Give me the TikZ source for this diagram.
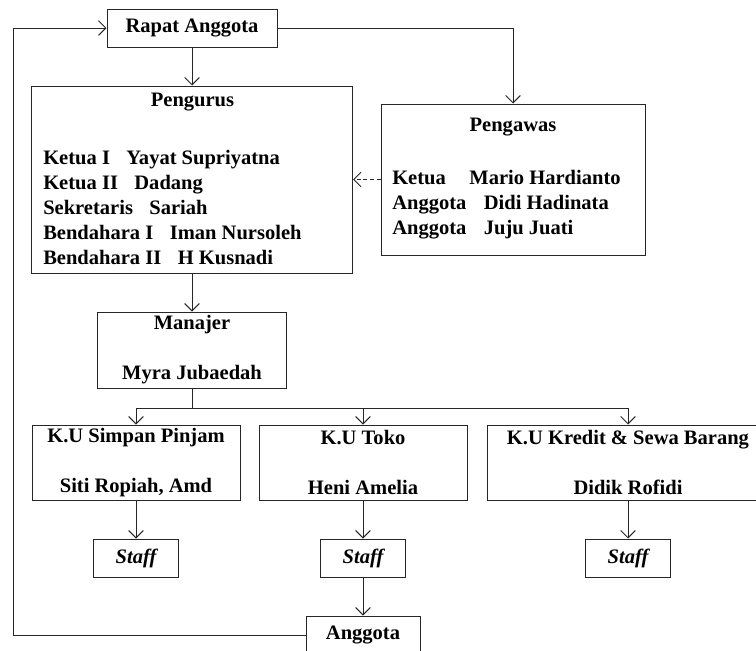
\documentclass[tikz,border=0pt]{standalone}
\usepackage{fontspec}
\setmainfont{Liberation Serif}
\usetikzlibrary{arrows.meta,positioning}

\begin{document}
\begin{tikzpicture}[x=0.75pt, y=-0.75pt, node distance=28.5pt,
                    font=\fontsize{15.4}{18.75}\selectfont\bfseries,
                    box/.style={rectangle, draw=black!85, line width=0.75pt, inner sep=0pt, align=center},
                    kubox/.style={box, minimum width=156pt, minimum height=56.25pt},
                    staffbox/.style={box, minimum width=63.75pt, minimum height=28.5pt, font=\fontsize{15.4}{18.75}\selectfont\bfseries\itshape},
                    txt/.style={inner sep=0pt, align=left},
                    link/.style={draw=black!85, line width=0.75pt},
                    arr/.style={link, -{Straight Barb[length=5.5pt, width=11pt]}}]
  \clip (0,0) rectangle (756,650);
  \node[box, minimum width=127.5pt, minimum height=28.5pt] (rapat) at (192,28) {Rapat Anggota};
  \node[box, below=of rapat, minimum width=240.75pt, minimum height=140.25pt] (pengurus) {};
  \node[txt] (pengurus-title) at (192.5,102) {Pengurus};
  \node[txt, anchor=west] (pengurus-list) at (43,207) {Ketua I\hspace{0.8em}Yayat Supriyatna\\
        Ketua II\hspace{0.8em}Dadang\\
        Sekretaris\hspace{0.8em}Sariah\\
        Bendahara I\hspace{0.8em}Iman Nursoleh\\
        Bendahara II\hspace{0.8em}H Kusnadi};
  \node[box, minimum width=198pt, minimum height=113.25pt] (pengawas) at (513,179.5) {};
  \node[txt] (pengawas-title) at (513,127) {Pengawas};
  \node[txt, anchor=west] (pengawas-list) at (392,204.5) {Ketua\hspace{1.15em}Mario Hardianto\\
        Anggota\hspace{0.85em}Didi Hadinata\\
        Anggota\hspace{0.85em}Juju Juati};
  \node[box, below=of pengurus, minimum width=141.75pt, minimum height=57pt] (manajer) {Manajer\\[18.75pt]Myra Jubaedah};
  \node[kubox] (simpan) at (136,462.5) {K.U Simpan Pinjam\\[18.75pt]Siti Ropiah, Amd};
  \node[kubox, right=13.5pt of simpan] (toko) {K.U Toko\\[18.75pt]Heni Amelia};
  \node[kubox, right=14.25pt of toko, minimum width=211.5pt] (kredit) {K.U Kredit \& Sewa Barang\\[18.75pt]Didik Rofidi};
  \node[staffbox, below=of simpan] (staff1) {Staff};
  \node[staffbox, below=of toko] (staff2) {Staff};
  \node[staffbox, below=of kredit] (staff3) {Staff};
  \node[box, below=of staff2, minimum width=85.5pt, minimum height=28.5pt] (anggota) {Anggota};

  \draw[arr] (rapat) -- (pengurus);
  \draw[arr] (rapat.east) -| (pengawas.north);
  \draw[arr, dash pattern=on 3pt off 2pt] (pengawas.west) -- (pengurus.east);
  \draw[arr] (pengurus) -- (manajer);
  \foreach \ku/\st in {simpan/staff1, toko/staff2, kredit/staff3} {
    \draw[arr] (manajer.south) -- ++(0,20) -| (\ku.north);
    \draw[arr] (\ku) -- (\st);
  }
  \draw[arr] (staff2) -- (anggota);
  \draw[arr] (anggota.west) -- ++(-292,0) |- (rapat.west);
\end{tikzpicture}
\end{document}
